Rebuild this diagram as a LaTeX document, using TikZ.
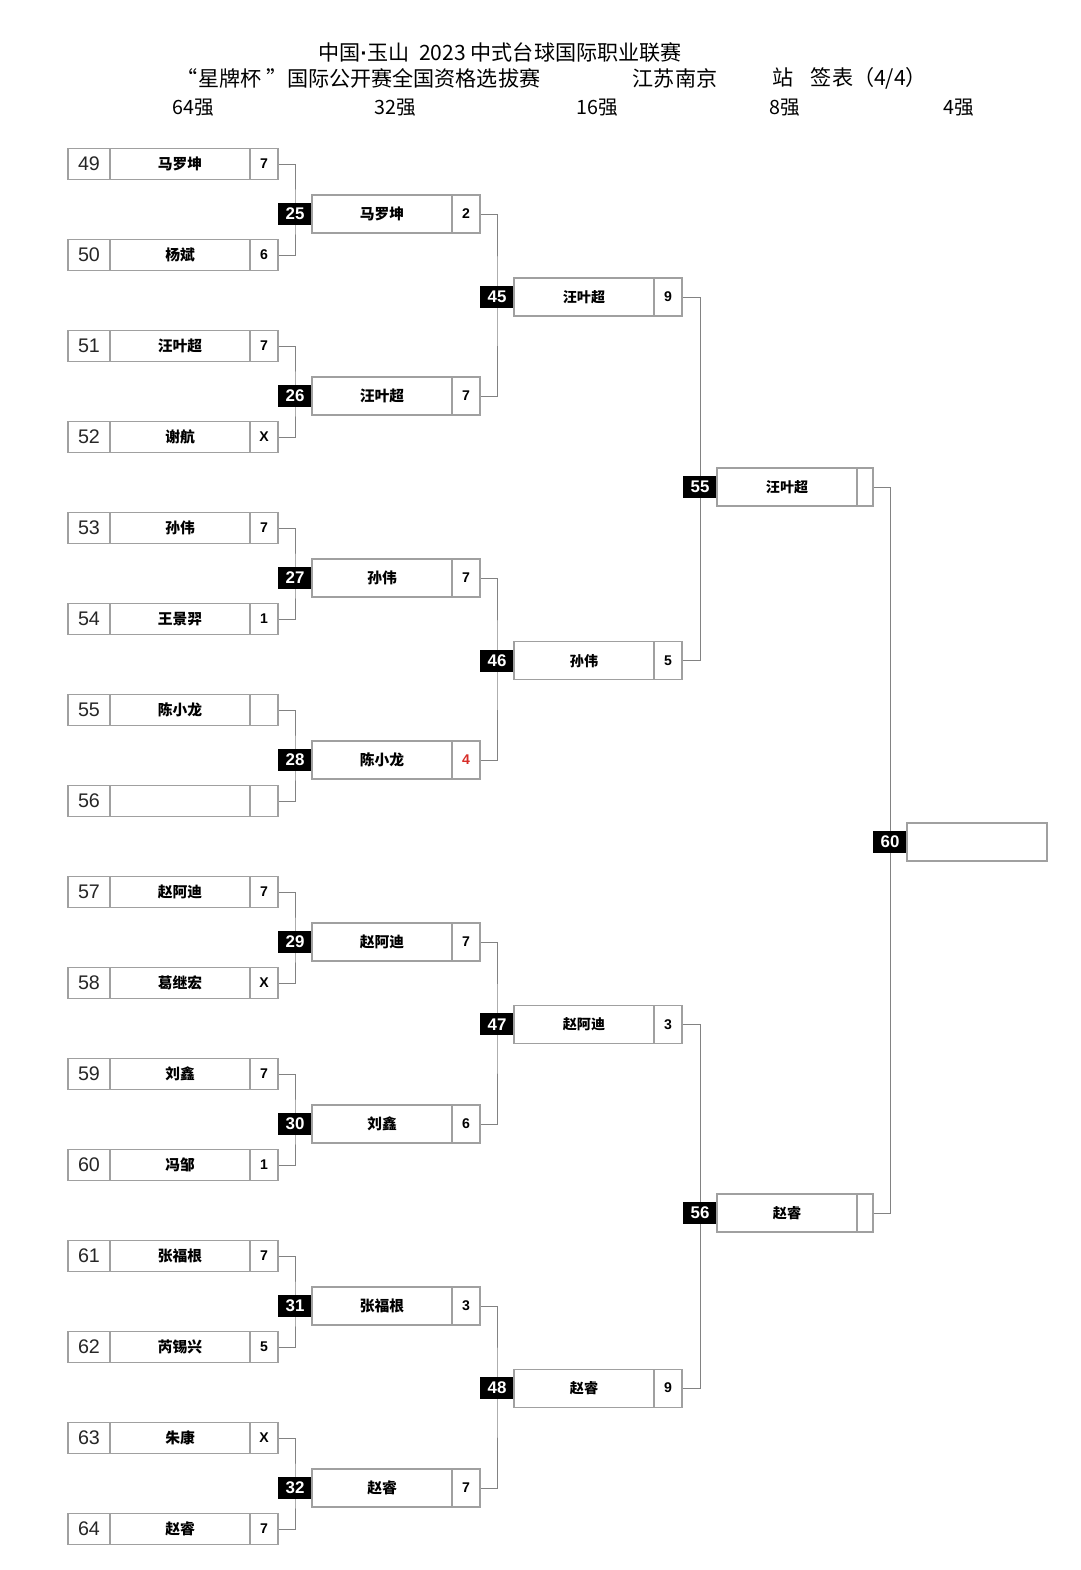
\documentclass[tikz,border=0pt]{standalone}
\usepackage{fontspec}
\setmainfont{Liberation Sans}
\newfontfamily\cjk{Noto Sans CJK SC}
\usetikzlibrary{positioning, backgrounds}
\definecolor{cBox}{RGB}{160,160,160}
\definecolor{cLine}{RGB}{130,130,130}
\definecolor{cRed}{RGB}{215,45,40}
\tikzset{
    seedcell/.style ={rectangle, draw=cBox, line width=0.8pt, outer sep=0pt, minimum width=1.05cm, minimum height=0.775cm, inner sep=0pt, text=black!85, font=\fontsize{14}{14}\selectfont},
    namecell/.style ={rectangle, draw=cBox, line width=0.8pt, outer sep=0pt, minimum width=3.5cm, minimum height=0.775cm, inner sep=0pt, font=\cjk\bfseries\fontsize{10.5}{10.5}\selectfont},
    scorecell/.style={rectangle, draw=cBox, line width=0.8pt, outer sep=0pt, minimum width=0.7cm, minimum height=0.775cm, inner sep=0pt, font=\bfseries\fontsize{10}{10}\selectfont},
    tall/.style     ={minimum height=0.95cm},
    matchtag/.style ={rectangle, fill=black, text=white, outer sep=0pt, minimum width=0.85cm, minimum height=0.55cm, inner sep=0pt, font=\bfseries\fontsize{12}{12}\selectfont},
    heading/.style  ={font=\cjk\fontsize{15}{15}\selectfont},
    roundhd/.style  ={font=\cjk\fontsize{14}{14}\selectfont},
    link/.style     ={draw=cLine, line width=0.6pt},
}

\begin{document}
\begin{tikzpicture}[x=0.025cm, y=-0.025cm]
    \useasboundingbox (0,0) rectangle (1080,1570);
    % header
    \node[heading] (title) at (500,52) {中国{\rmfamily\bfseries·}玉山\ \ 2023 中式台球国际职业联赛};
    \node[heading, anchor=west] (cup) at (172,78) {“星牌杯 ”国际公开赛全国资格选拔赛};
    \node[heading] (city) at (675,78) {江苏南京};
    \node[heading, anchor=west] (station) at (768,78) {站\hspace{0.8em}签表（4/4）};
    \node[roundhd] (r64) at (193,108) {64强};
    \node[roundhd] (r32) at (395,108) {32强};
    \node[roundhd] (r16) at (597,108) {16强};
    \node[roundhd] (r8)  at (785,108) {8强};
    \node[roundhd] (r4)  at (959,108) {4强};

    % 64
    \foreach \s/\nm/\sc [count=\i from 0] in {49/马罗坤/7, 50/杨斌/6, 51/汪叶超/7, 52/谢航/X,
            53/孙伟/7, 54/王景羿/1, 55/陈小龙/, 56//, 57/赵阿迪/7, 58/葛继宏/X,
            59/刘鑫/7, 60/冯邹/1, 61/张福根/7, 62/芮锡兴/5, 63/朱康/X, 64/赵睿/7} {
        \node[seedcell] (s\s) at (89,164+91*\i) {\s};
        \node[namecell, right=0pt of s\s] (n\s) {\nm};
        \node[scorecell, right=0pt of n\s] (c\s) {\sc};
    }
    % 32
    \foreach \m/\nm/\sc [count=\i from 0] in {25/马罗坤/2, 26/汪叶超/7, 27/孙伟/7,
            28/陈小龙/{\color{cRed}4}, 29/赵阿迪/7, 30/刘鑫/6, 31/张福根/3, 32/赵睿/7} {
        \node[matchtag] (t\m) at (295,214+182*\i) {\m};
        \node[namecell, tall, right=0pt of t\m] (w\m) {\nm};
        \node[scorecell, tall, right=0pt of w\m] (v\m) {\sc};
    }
    % 16
    \foreach \m/\nm/\sc [count=\i from 0] in {45/汪叶超/9, 46/孙伟/5, 47/赵阿迪/3, 48/赵睿/9} {
        \node[matchtag] (t\m) at (497,297+363.7*\i) {\m};
        \node[namecell, tall, font=\cjk\bfseries\fontsize{10}{10}\selectfont, right=0pt of t\m] (w\m) {\nm};
        \node[scorecell, tall, right=0pt of w\m] (v\m) {\sc};
    }
    % 8
    \foreach \m/\nm [count=\i from 0] in {55/汪叶超, 56/赵睿} {
        \node[matchtag] (t\m) at (700,487+726*\i) {\m};
        \node[namecell, tall, font=\cjk\bfseries\fontsize{10}{10}\selectfont, right=0pt of t\m] (w\m) {\nm};
        \node[scorecell, tall, minimum width=0.4cm, right=0pt of w\m] (v\m) {};
    }
    % 4
    \node[matchtag] (t60) at (890,842) {60};
    \node[namecell, tall, right=0pt of t60] (w60) {};

    \begin{scope}[on background layer]
        \foreach \a/\b/\m in {49/50/25, 51/52/26, 53/54/27, 55/56/28,
                57/58/29, 59/60/30, 61/62/31, 63/64/32}
            \draw[link] (c\a.east) -| (t\m.center) |- (c\b.east);
        \foreach \a/\b/\m in {25/26/45, 27/28/46, 29/30/47, 31/32/48}
            \draw[link] (v\a.east) -| (t\m.center) |- (v\b.east);
        \draw[link] (v45.east) -| (t55.center) |- (v46.east);
        \draw[link] (v47.east) -| (t56.center) |- (v48.east);
        \draw[link] (v55.east) -| (t60.center) |- (v56.east);
    \end{scope}
\end{tikzpicture}
\end{document}
